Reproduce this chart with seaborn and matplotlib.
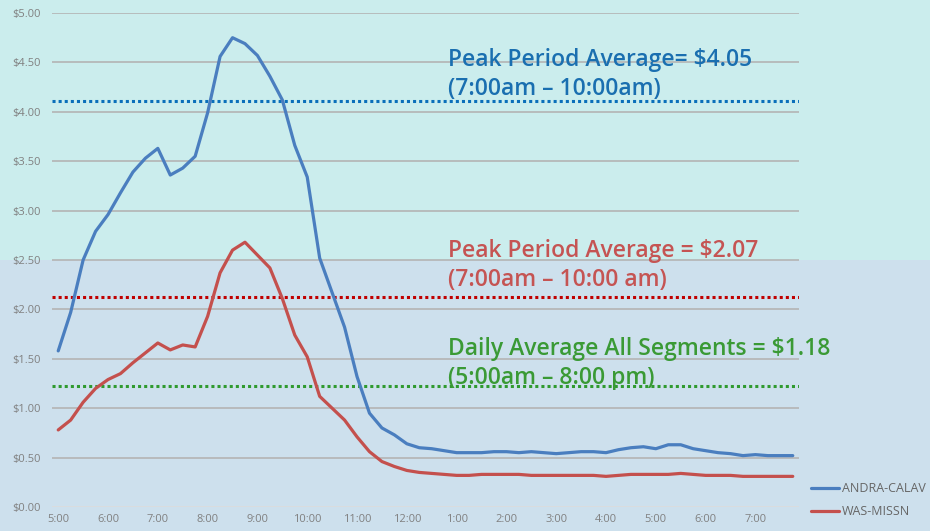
import numpy as np
import pandas as pd
import seaborn as sns
import matplotlib.pyplot as plt
from matplotlib.patches import Rectangle

# 15-minute intervals, 5:00am - 7:45pm
hour_labels = ['5:00', '6:00', '7:00', '8:00', '9:00', '10:00', '11:00', '12:00',
               '1:00', '2:00', '3:00', '4:00', '5:00', '6:00', '7:00']

andra_calav = [1.58, 1.97, 2.50, 2.79, 2.96, 3.18, 3.39, 3.53, 3.63, 3.36, 3.43, 3.55,
               3.99, 4.56, 4.75, 4.69, 4.57, 4.36, 4.12, 3.66, 3.34, 2.52, 2.17, 1.82,
               1.32, 0.95, 0.80, 0.73, 0.64, 0.60, 0.59, 0.57, 0.55, 0.55, 0.55, 0.56,
               0.56, 0.55, 0.56, 0.55, 0.54, 0.55, 0.56, 0.56, 0.55, 0.58, 0.60, 0.61,
               0.59, 0.63, 0.63, 0.59, 0.57, 0.55, 0.54, 0.52, 0.53, 0.52, 0.52, 0.52]

was_missn = [0.78, 0.88, 1.06, 1.20, 1.29, 1.35, 1.46, 1.56, 1.66, 1.59, 1.64, 1.62,
             1.93, 2.37, 2.60, 2.68, 2.55, 2.42, 2.11, 1.74, 1.52, 1.12, 1.00, 0.88,
             0.71, 0.56, 0.46, 0.41, 0.37, 0.35, 0.34, 0.33, 0.32, 0.32, 0.33, 0.33,
             0.33, 0.33, 0.32, 0.32, 0.32, 0.32, 0.32, 0.32, 0.31, 0.32, 0.33, 0.33,
             0.33, 0.33, 0.34, 0.33, 0.32, 0.32, 0.32, 0.31, 0.31, 0.31, 0.31, 0.31]

# reference lines (as drawn in the picture)
peak_blue_level = 4.11
peak_red_level = 2.13
daily_level = 1.22

blue_text = 'Peak Period Average= $4.05\n(7:00am \u2013 10:00am)'
red_text = 'Peak Period Average = $2.07\n(7:00am \u2013 10:00 am)'
green_text = 'Daily Average All Segments = $1.18\n(5:00am \u2013 8:00 pm)'

n = len(andra_calav)
df = pd.DataFrame({
    'slot': list(range(n)) * 2,
    'toll': andra_calav + was_missn,
    'segment': ['ANDRA-CALAV'] * n + ['WAS-MISSN'] * n,
})

sns.set_style('white')
plt.rcParams['font.family'] = ['Open Sans', 'DejaVu Sans']

fig = plt.figure(figsize=(9.3, 5.31), dpi=100)
fig.patch.set_facecolor('#cbeded')
ax = fig.add_axes([52 / 930, 24 / 531, 747 / 930, 494 / 531])
ax.set_facecolor('none')

# lower half of the slide background (below $2.50)
split = ax.get_position().y0 + 0.5 * ax.get_position().height
fig.add_artist(Rectangle((0, 0), 1, split, transform=fig.transFigure,
                         facecolor='#cde0ed', edgecolor='none', zorder=-5))

sns.lineplot(data=df, x='slot', y='toll', hue='segment',
             palette={'ANDRA-CALAV': '#4a7ebf', 'WAS-MISSN': '#c4504d'},
             linewidth=2.3, ax=ax, legend=True)

ax.axhline(peak_blue_level, color='#0a6fba', lw=2.2, ls=(0, (1, 1)), zorder=1)
ax.axhline(peak_red_level, color='#c00000', lw=2.2, ls=(0, (1, 1)), zorder=1)
ax.axhline(daily_level, color='#2f9a2f', lw=2.2, ls=(0, (1, 1)), zorder=1)

ax.set_xlim(-0.5, n - 0.5)
ax.set_ylim(0, 5)
ax.set_yticks(np.arange(0, 5.01, 0.5))
ax.set_yticklabels([f'${v:.2f}' for v in np.arange(0, 5.01, 0.5)])
ax.set_xticks(range(0, n, 4))
ax.set_xticklabels(hour_labels)
ax.tick_params(axis='both', length=0, labelsize=8, labelcolor='#808080')
ax.tick_params(axis='y', pad=8)
ax.tick_params(axis='x', pad=5)
ax.set_xlabel('')
ax.set_ylabel('')
ax.yaxis.grid(True, color='#b4b4b4', lw=1.2)
ax.set_axisbelow(True)
ax.get_ygridlines()[0].set_color('#dcdcdc')
for s in ax.spines.values():
    s.set_visible(False)

txt_kw = dict(transform=fig.transFigure, fontsize=16.5, fontweight='semibold',
              va='top', ha='left', linespacing=1.3)
fig.text(448 / 930, 1 - 48 / 531, blue_text, color='#1a6fb0', **txt_kw)
fig.text(448 / 930, 1 - 239 / 531, red_text, color='#c55453', **txt_kw)
fig.text(448 / 930, 1 - 337 / 531, green_text, color='#3a9a35', **txt_kw)

handles, labels = ax.get_legend_handles_labels()
ax.get_legend().remove()
fig.legend(handles, labels, loc='center left', bbox_to_anchor=(811 / 930, 31 / 531),
           frameon=False, fontsize=9, labelcolor='#666666', handlelength=2.2,
           handletextpad=0.3, labelspacing=0.8, borderpad=0, borderaxespad=0)

fig.savefig('out.png', dpi=100, facecolor=fig.get_facecolor())
